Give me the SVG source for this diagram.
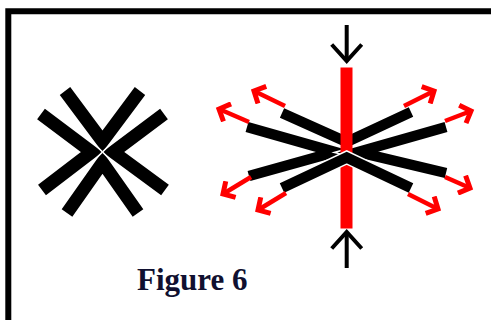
<svg xmlns="http://www.w3.org/2000/svg" width="491" height="320" viewBox="0 0 491 320">
  <style>
    .chevL { fill: none; stroke: #000; stroke-width: 13; stroke-linejoin: miter; stroke-miterlimit: 10; stroke-linecap: butt; }
    .chevW { fill: none; stroke: #fff; stroke-width: 13.5; stroke-linejoin: miter; stroke-miterlimit: 10; stroke-linecap: butt; }
    .chevR { fill: none; stroke: #000; stroke-width: 10.5; stroke-linejoin: miter; stroke-miterlimit: 10; stroke-linecap: butt; }
    .gap { stroke: #fff; stroke-width: 1.6; }
    .red { fill: none; stroke: #ff0000; stroke-width: 4.5; }
    .blk { fill: none; stroke: #000; stroke-width: 4; }
    .label { font-family: "Liberation Serif", "Times New Roman", serif; font-weight: bold; font-size: 31px; fill: #101030; }
  </style>
  <defs>
    <marker id="redHead" viewBox="0 0 22 22" refX="15" refY="11" markerWidth="22" markerHeight="22" markerUnits="userSpaceOnUse" orient="auto">
      <path d="M6,1.5 L15,11 L6,20.5" fill="none" stroke="#ff0000" stroke-width="5" stroke-linejoin="miter"/>
    </marker>
    <marker id="blkHead" viewBox="0 0 36 36" refX="33" refY="18" markerWidth="36" markerHeight="36" markerUnits="userSpaceOnUse" orient="auto">
      <path d="M16.5,3 L33,18 L16.5,33" fill="none" stroke="#000" stroke-width="4"/>
    </marker>
  </defs>
  <rect width="491" height="320" fill="#fff"/>
  <g id="frame">
    <path d="M8.3,330 V11.2 H500" fill="none" stroke="#000" stroke-width="6"/>
  </g>
  <g id="left-figure">
    <polyline class="chevL" points="65,91 102.5,141.4 140,91"/>
    <polyline class="chevL" points="67,213 102.5,162.6 138,213"/>
    <polyline class="chevL" points="41,114 91.7,152 42,190"/>
    <polyline class="chevL" points="164,114 113.3,152 165,190"/>
    <line class="gap" x1="86" y1="135.5" x2="119" y2="168.5"/>
    <line class="gap" x1="119" y1="135.5" x2="86" y2="168.5"/>
  </g>
  <g id="right-figure">
    <polyline class="chevW" points="282,113 346.7,142 411,112"/>
    <polyline class="chevR" points="282,113 346.7,142 411,112"/>
    <polyline class="chevW" points="247,127 335,152 249,176"/>
    <polyline class="chevR" points="247,127 335,152 249,176"/>
    <polyline class="chevW" points="446,127 358,152 446,173"/>
    <polyline class="chevR" points="446,127 358,152 446,173"/>
    <rect id="red-bar" x="340.5" y="67.5" width="12" height="161" fill="#ff0000"/>
    <polyline class="chevW" points="282,188 346.7,157.5 411,188"/>
    <polyline class="chevR" points="282,188 346.7,157.5 411,188"/>
  </g>
  <g id="connectors">
    <line class="red" x1="249" y1="122" x2="219" y2="109" marker-end="url(#redHead)"/>
    <line class="red" x1="285" y1="106" x2="254" y2="91" marker-end="url(#redHead)"/>
    <line class="red" x1="404" y1="106" x2="434" y2="91" marker-end="url(#redHead)"/>
    <line class="red" x1="445" y1="121" x2="471" y2="111" marker-end="url(#redHead)"/>
    <line class="red" x1="251" y1="177" x2="223" y2="194" marker-end="url(#redHead)"/>
    <line class="red" x1="286" y1="193" x2="258" y2="210" marker-end="url(#redHead)"/>
    <line class="red" x1="408" y1="194" x2="438" y2="209" marker-end="url(#redHead)"/>
    <line class="red" x1="445" y1="177" x2="470" y2="188" marker-end="url(#redHead)"/>
    <line class="blk" x1="346.7" y1="25" x2="346.7" y2="61" marker-end="url(#blkHead)"/>
    <line class="blk" x1="346.7" y1="268" x2="346.7" y2="232" marker-end="url(#blkHead)"/>
  </g>
  <g id="caption">
    <text class="label" x="137" y="290">Figure 6</text>
  </g>
</svg>
